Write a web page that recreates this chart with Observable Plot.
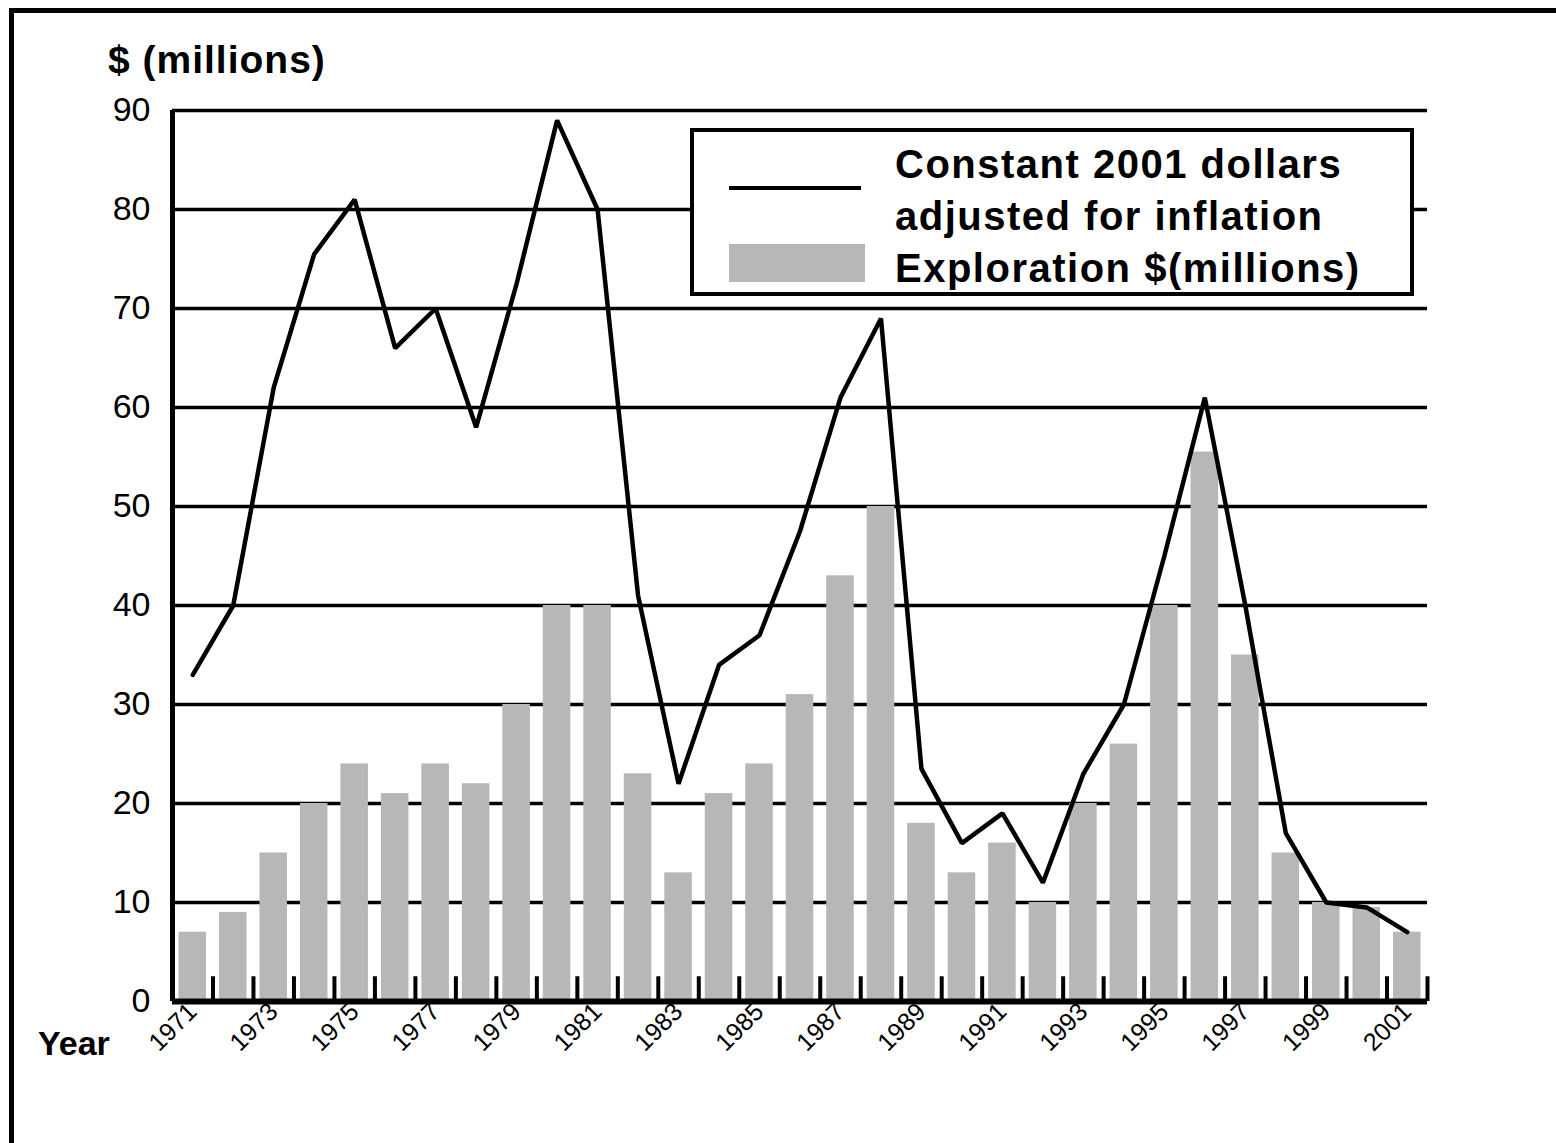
<!DOCTYPE html>
<html>
<head>
<meta charset="utf-8">
<script src="https://cdn.jsdelivr.net/npm/d3@7"></script>
<script src="https://cdn.jsdelivr.net/npm/@observablehq/plot@0.6"></script>
<style>
  body { margin: 0; background: #fff; }
  #wrap { position: relative; width: 1556px; height: 1143px; overflow: hidden;
          font-family: "Liberation Sans", Arial, sans-serif; color: #000; }
  #frame { position: absolute; left: 9px; top: 8px; width: 1700px; height: 1300px;
           border: 5px solid #000; box-sizing: border-box; }
  #chart { position: absolute; left: 0; top: 0; }
  #title { position: absolute; left: 108px; top: 38px; font-size: 39px; font-weight: bold; letter-spacing: 1px; }
  #yearlbl { position: absolute; left: 38px; top: 1024px; font-size: 34px; font-weight: bold; }
  #legend { position: absolute; left: 690px; top: 128px; width: 724px; height: 168px;
            border: 4px solid #000; background: #fff; box-sizing: border-box; }
  #legend .ln { position: absolute; left: 35px; top: 54px; width: 132px; height: 4px; background: #000; }
  #legend .sw { position: absolute; left: 35px; top: 112px; width: 136px; height: 38px; background: #b7b7b7; }
  #legend .tx { position: absolute; left: 201px; top: 6px; font-size: 40px; font-weight: bold; line-height: 52px;
                letter-spacing: 1.5px; white-space: nowrap; }
</style>
</head>
<body>
<div id="wrap">
  <div id="frame"></div>
  <div id="chart"></div>
  <div id="title">$ (millions)</div>
  <div id="yearlbl">Year</div>
  <div id="legend">
    <div class="ln"></div>
    <div class="sw"></div>
    <div class="tx">Constant 2001 dollars<br>adjusted for inflation<br>Exploration $(millions)</div>
  </div>
</div>
<script>
// ---- data ----
const years = [1971, 1972, 1973, 1974, 1975, 1976, 1977, 1978, 1979, 1980,
               1981, 1982, 1983, 1984, 1985, 1986, 1987, 1988, 1989, 1990,
               1991, 1992, 1993, 1994, 1995, 1996, 1997, 1998, 1999, 2000, 2001];
const exploration = [7, 9, 15, 20, 24, 21, 24, 22, 30, 40,
                     40, 23, 13, 21, 24, 31, 43, 50, 18, 13,
                     16, 10, 20, 26, 40, 55.5, 35, 15, 10, 9.5, 7];
const constant2001 = [33, 40, 62, 75.5, 81, 66, 70, 58, 72.5, 89,
                      80, 41, 22, 34, 37, 47.5, 61, 69, 23.5, 16,
                      19, 12, 23, 30, 45, 61, 40, 17, 10, 9.5, 7];
const yTicks = [0, 10, 20, 30, 40, 50, 60, 70, 80, 90];
const xTickLabels = [1971, 1973, 1975, 1977, 1979, 1981, 1983, 1985, 1987, 1989,
                     1991, 1993, 1995, 1997, 1999, 2001];

const data = years.map((year, i) => ({year, exploration: exploration[i], constant: constant2001[i]}));
const boundaries = years.map(y => y - 0.5).concat([years[years.length - 1] + 0.5]);
const half = 0.34;

const chart = Plot.plot({
  width: 1556,
  height: 1143,
  marginLeft: 172,
  marginRight: 129,
  marginTop: 110,
  marginBottom: 142,
  x: {type: "linear", domain: [years[0] - 0.5, years[years.length - 1] + 0.5]},
  y: {domain: [0, 90]},
  style: {fontFamily: '"Liberation Sans", Arial, sans-serif', color: "#000", background: "transparent", overflow: "visible"},
  marks: [
    Plot.ruleY(yTicks.filter(d => d > 0), {stroke: "#000", strokeWidth: 3.5}),
    Plot.rectY(data, {x1: d => d.year - half, x2: d => d.year + half, y1: 0, y2: "exploration", fill: "#b7b7b7"}),
    Plot.ruleX(boundaries, {y1: 0, y2: 2.5, stroke: "#000", strokeWidth: 4}),
    Plot.line(data, {x: "year", y: "constant", stroke: "#000", strokeWidth: 4.5, strokeLinejoin: "miter"}),
    Plot.ruleY([0], {stroke: "#000", strokeWidth: 6}),
    Plot.ruleX([years[0] - 0.5], {stroke: "#000", strokeWidth: 5}),
    Plot.axisY({ticks: yTicks, tickSize: 0, tickPadding: 22, fontSize: 34, label: null}),
    Plot.axisX({ticks: xTickLabels, tickSize: 0, tickPadding: 6, tickRotate: -45, fontSize: 25, label: null,
                tickFormat: d => String(d)})
  ]
});
document.getElementById("chart").appendChild(chart);
</script>
</body>
</html>
